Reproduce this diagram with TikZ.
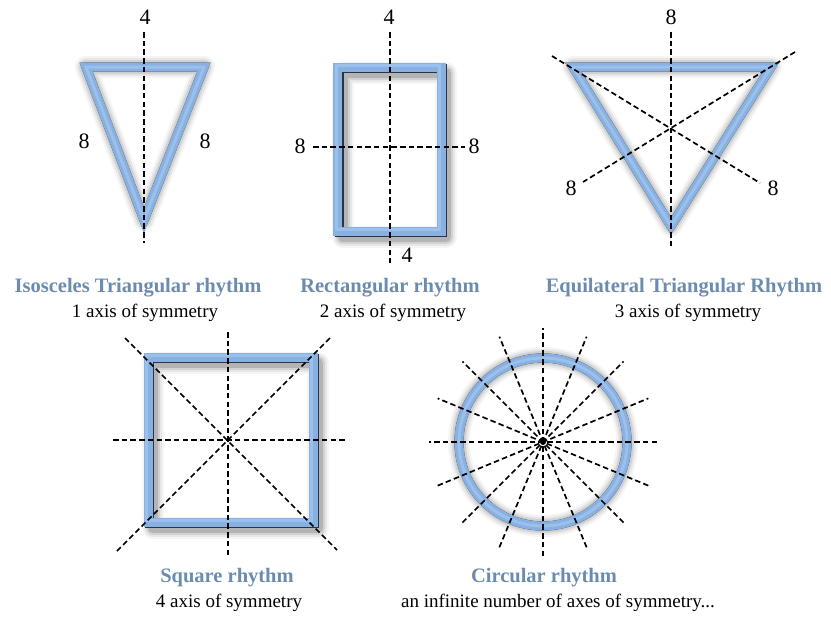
\documentclass[tikz,border=0pt]{standalone}
\usepackage{fontspec}
\setmainfont{Liberation Serif}
\usetikzlibrary{calc}
\definecolor{bandcol}{HTML}{88B0E0}
\definecolor{bandlight}{HTML}{9CC0EC}
\definecolor{edgecol}{HTML}{27354A}
\definecolor{capcol}{HTML}{6B8CAE}
\newcommand\bevelpath[1]{%
  \foreach \w/\o in {22/0.04,18/0.06,14/0.09,10/0.14}{%
    \draw[black,opacity=\o,line width=\w pt,line join=round,shift={(5,6)}] #1;}
  \draw[edgecol,line width=9pt,line join=miter,shift={(1.8,1.8)}] #1;
  \draw[bandcol,line width=9pt,line join=miter] #1;
  \draw[bandlight,line width=3pt,line join=miter,shift={(-1.2,-1.2)}] #1;
}
\tikzset{
  axis/.style={black,line width=1.7pt,dash pattern=on 5.5pt off 3.2pt},
  num/.style={font=\fontsize{22}{26}\selectfont,inner sep=0pt},
  title/.style={font=\fontsize{20.5}{24}\selectfont\bfseries,text=capcol,inner sep=0pt},
  sub/.style={font=\fontsize{19}{22}\selectfont,inner sep=0pt},
}
\begin{document}
\begin{tikzpicture}[x=1pt,y=-1pt]
\useasboundingbox (0,0) rectangle (831,619);
% ---------- Isosceles triangle
\coordinate (iA) at (86,67); \coordinate (iB) at (204,67); \coordinate (iC) at (144,220);
\bevelpath{(iA) -- (iB) -- (iC) -- cycle}
\coordinate (iT) at (144,32); \coordinate (iD) at (144,243);
\draw[axis] (iT) -- (iD);
\node[num] (i4) at (145,17) {4};
\node[num] (i8l) at (84,141) {8};
\node[num] (i8r) at (205,141) {8};
\node[title] (it) at (138,288) {Isosceles Triangular rhythm};
\node[sub] (is) at (145,313) {1 axis of symmetry};
% ---------- Rectangle
\bevelpath{(337.5,67) rectangle (441,231)}
\coordinate (rT) at (390,32); \coordinate (rD) at (390,263);
\coordinate (rL) at (313,147); \coordinate (rR) at (465,147);
\draw[axis] (rT) -- (rD);
\draw[axis] (rL) -- (rR);
\node[num] (r4t) at (389,17) {4};
\node[num] (r8l) at (300,146) {8};
\node[num] (r8r) at (474,146) {8};
\node[num] (r4b) at (407,255) {4};
\node[title] (rt) at (390,288) {Rectangular rhythm};
\node[sub] (rs) at (393,313) {2 axis of symmetry};
% ---------- Equilateral triangle
\coordinate (eA) at (573,67); \coordinate (eB) at (771,67); \coordinate (eC) at (671,226);
\bevelpath{(eA) -- (eB) -- (eC) -- cycle}
\coordinate (eT) at (671,32); \coordinate (eD) at (671,248);
\coordinate (e1a) at (552,56); \coordinate (e1b) at (760,183);
\coordinate (e2a) at (795,52); \coordinate (e2b) at (583,182);
\draw[axis] (eT) -- (eD);
\draw[axis] (e1a) -- (e1b);
\draw[axis] (e2a) -- (e2b);
\node[num] (e8t) at (671,17) {8};
\node[num] (e8l) at (571,188) {8};
\node[num] (e8r) at (773,188) {8};
\node[title] (et) at (684,288) {Equilateral Triangular Rhythm};
\node[sub] (es) at (688,313) {3 axis of symmetry};
% ---------- Square
\bevelpath{(148,357) rectangle (313,522)}
\coordinate (sT) at (228,332); \coordinate (sD) at (228,555);
\coordinate (sL) at (113,440); \coordinate (sR) at (347,440);
\coordinate (s1a) at (125,338); \coordinate (s1b) at (337,550);
\coordinate (s2a) at (330,338); \coordinate (s2b) at (116,552);
\draw[axis] (sT) -- (sD);
\draw[axis] (sL) -- (sR);
\draw[axis] (s1a) -- (s1b);
\draw[axis] (s2a) -- (s2b);
\node[title] (st) at (227,578) {Square rhythm};
\node[sub] (ss) at (229,603) {4 axis of symmetry};
% ---------- Circle
\coordinate (cO) at (543,442);
\bevelpath{(cO) circle[radius=84]}
\foreach \a in {0,22.5,...,157.5}{
  \draw[axis] ($(cO)+(\a:114)$) -- ($(cO)+(\a+180:114)$);
}
\fill[black] (cO) circle[radius=3];
\node[title] (ct) at (544,578) {Circular rhythm};
\node[sub] (cs) at (558,603) {an infinite number of axes of symmetry...};
\end{tikzpicture}
\end{document}
